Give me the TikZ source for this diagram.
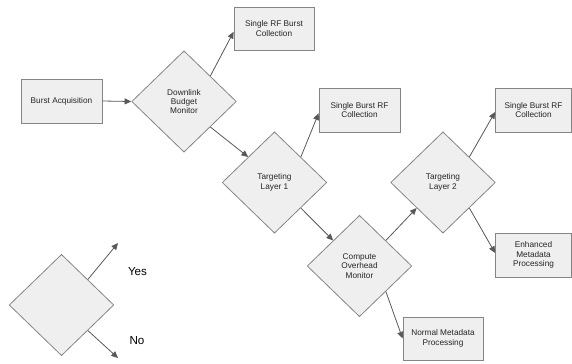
\documentclass[tikz,border=0pt]{standalone}
\usepackage{fontspec}
\setmainfont{Liberation Sans}
\usetikzlibrary{shapes.geometric,arrows.meta,calc}
\definecolor{boxfill}{HTML}{EFEFEF}
\definecolor{boxline}{HTML}{858585}
\definecolor{arrowgray}{HTML}{595959}

\begin{document}
\begin{tikzpicture}[x=0.75pt,y=-0.75pt,
    every node/.style={font=\fontsize{6.2}{7}\selectfont, align=center, text=black!85},
    procbox/.style={rectangle, draw=boxline, fill=boxfill, line width=0.6pt,
      minimum width=60.75pt, minimum height=33pt, inner sep=0pt},
    decision/.style={diamond, draw=boxline, fill=boxfill, line width=0.6pt,
      minimum width=78.5pt, minimum height=76pt, inner sep=0pt},
    flow/.style={draw=arrowgray, line width=0.6pt, -{Triangle[length=5pt,width=4.5pt]}},
    legendtext/.style={font=\fontsize{8.7}{10}\selectfont, text=black}]
  \useasboundingbox (0,0) rectangle (572,364);

  % Main chain
  \node[procbox] (acq) at (61.5,101) {Burst Acquisition};
  \node[decision] (dlb) at (184,101.5) {Downlink\\Budget\\Monitor};
  \node[decision] (tl1) at (274.5,182.5) {Targeting\\Layer 1};
  \node[decision] (com) at (359.5,266) {Compute\\Overhead\\Monitor};
  \node[decision] (tl2) at (443,182.5) {Targeting\\Layer 2};

  % Outcomes
  \node[procbox, minimum width=60pt, minimum height=32.25pt] (srf) at (274,28.5) {Single RF Burst\\Collection};
  \node[procbox] (sbrf1) at (359.5,110) {Single Burst RF\\Collection};
  \node[procbox, minimum width=57pt] (sbrf2) at (533.5,110) {Single Burst RF\\Collection};
  \node[procbox, minimum width=57pt] (enh) at (533.5,255) {Enhanced\\Metadata\\Processing};
  \node[procbox, minimum width=60pt, minimum height=32.25pt] (nmp) at (443,338.5) {Normal Metadata\\Processing};

  % Connectors
  \draw[flow] (acq.east) -- (dlb.west);
  \draw[flow] ($(dlb.north)!0.5!(dlb.east)$) -- ([yshift=-2.5pt]srf.west);
  \draw[flow] ($(dlb.south)!0.5!(dlb.east)$) -- ($(tl1.north)!0.5!(tl1.west)$);
  \draw[flow] ($(tl1.north)!0.5!(tl1.east)$) -- ([yshift=-2.5pt]sbrf1.west);
  \draw[flow] ($(tl1.south)!0.5!(tl1.east)$) -- ($(com.north)!0.5!(com.west)$);
  \draw[flow] ($(com.north)!0.5!(com.east)$) -- ($(tl2.south)!0.5!(tl2.west)$);
  \draw[flow] ($(com.south)!0.5!(com.east)$) -- (nmp.west);
  \draw[flow] ($(tl2.north)!0.5!(tl2.east)$) -- ([yshift=-1.5pt]sbrf2.west);
  \draw[flow] ($(tl2.south)!0.5!(tl2.east)$) -- ([yshift=1.5pt]enh.west);

  % Legend
  \node[decision] (key) at (61.5,305) {};
  \coordinate (keyyes) at (118,243);
  \coordinate (keyno) at (118,358);
  \draw[flow] ($(key.north)!0.5!(key.east)$) -- (keyyes);
  \draw[flow] ($(key.south)!0.5!(key.east)$) -- (keyno);
  \node[legendtext] (yes) at (137.5,272) {Yes};
  \node[legendtext] (no) at (137,341) {No};
\end{tikzpicture}
\end{document}
